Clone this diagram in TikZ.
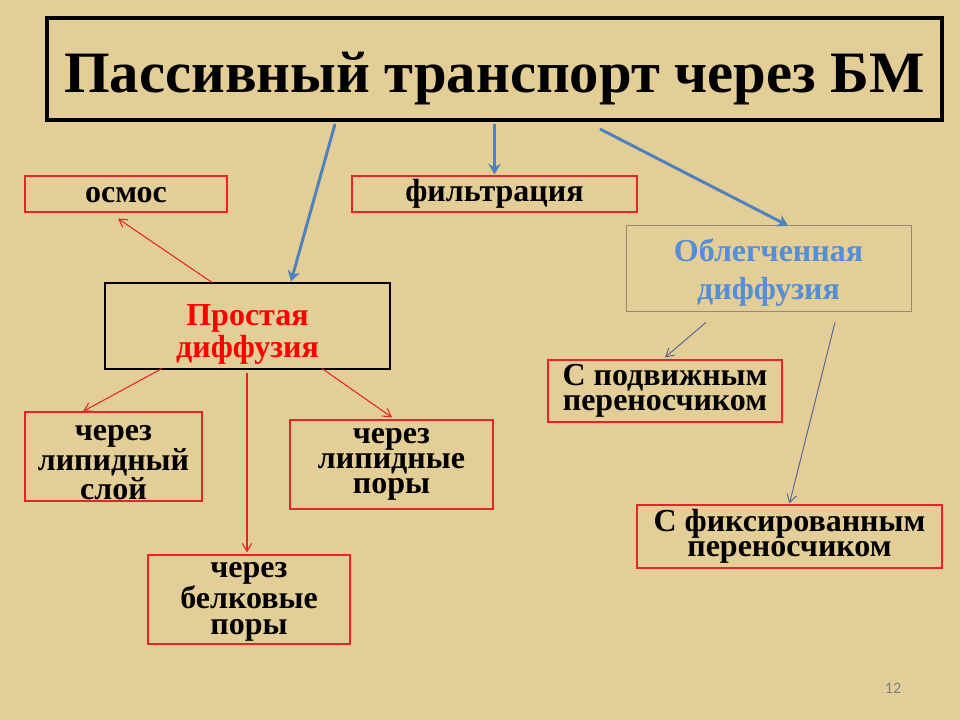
\documentclass[tikz,border=0pt]{standalone}
\usepackage{fontspec}
\setmainfont{Liberation Serif}
\newfontfamily\numfont{Carlito}
\usetikzlibrary{positioning,calc,arrows.meta}
\definecolor{parchment}{RGB}{228,206,152}
\definecolor{boxred}{RGB}{232,36,40}
\definecolor{arrowblue}{RGB}{79,129,189}
\definecolor{textblue}{RGB}{85,142,213}
\definecolor{thinblue}{RGB}{80,100,150}
\definecolor{boxgray}{RGB}{150,135,115}
\newcommand{\capfix}[1]{\rule{0pt}{#1}}

\begin{document}
\begin{tikzpicture}[x=0.75pt,y=-0.75pt,
    box/.style={draw,line width=0.9pt,inner sep=0pt,align=center,
        font=\fontsize{24}{19}\selectfont\bfseries},
    redbox/.style={box,draw=boxred},
    main/.style={-{Stealth[length=8pt,width=9.5pt]},arrowblue,line width=2.2pt},
    redline/.style={-{Straight Barb[length=6pt,width=7pt]},boxred,line width=0.8pt},
    blueline/.style={-{Straight Barb[length=6pt,width=7pt]},thinblue,line width=0.7pt}]
    \fill[parchment] (0,0) rectangle (960,720);
    \node[draw,line width=3pt,minimum width=895*0.75pt,minimum height=102*0.75pt,
        inner sep=0pt,text height=35pt,text depth=0pt,
        font=\fontsize{44}{52}\selectfont\bfseries] (title) at (494.5,69)
        {Пассивный транспорт через БМ};
    \node[redbox,minimum width=202*0.75pt,minimum height=36*0.75pt,
        text height=13pt,text depth=0pt] (osmos) at (126,194) {осмос};
    \node[redbox,minimum width=285*0.75pt,minimum height=36*0.75pt,
        text height=12pt,text depth=0pt] (filt) at (494.5,194) {фильтрация};
    \node[box,font=\fontsize{24}{28.5}\selectfont\bfseries,draw=boxgray,line width=0.6pt,
        text=textblue,minimum width=285*0.75pt,minimum height=86*0.75pt]
        (obl) at (768.5,268) {\capfix{24pt}Облегченная\\диффузия};
    \node[box,font=\fontsize{24}{24}\selectfont\bfseries,draw=black,line width=0.8pt,
        text=red,minimum width=285*0.75pt,minimum height=86*0.75pt]
        (prost) at (247.5,326) {\capfix{28pt}Простая\\диффузия};
    \node[redbox,minimum width=177*0.75pt,minimum height=89*0.75pt] (lipsl) at (113.5,456.5)
        {\capfix{20pt}через\\липидный\\слой};
    \node[redbox,minimum width=203*0.75pt,minimum height=89*0.75pt] (lippor) at (391.5,464.5)
        {через\\липидные\\поры};
    \node[redbox,minimum width=202*0.75pt,minimum height=89*0.75pt] (belk) at (249,599.5)
        {\capfix{15pt}через\\белковые\\поры};
    \node[redbox,minimum width=234*0.75pt,minimum height=62*0.75pt] (podv) at (665,391)
        {С подвижным\\переносчиком};
    \node[redbox,minimum width=305*0.75pt,minimum height=63*0.75pt] (fiks) at (789.5,536.5)
        {С фиксированным\\переносчиком};
    \node[text=gray,font=\numfont\fontsize{12}{14}\selectfont] (page) at (893,688) {12};
    % blue arrows from the title
    \path[main] ($(title.south)+(-159.5,2)$) edge ($(prost.north)+(43.5,-1)$);
    \path[main] ($(title.south)+(0,2)$) edge ($(filt.north)+(0,-1)$);
    \path[main] ($(title.south)+(105.5,7)$) edge ($(obl.north)+(19.5,1)$);
    % simple diffusion
    \path[redline] ($(prost.north)+(-35.5,0)$) edge ($(osmos.south)+(-8,6)$);
    \path[redline] ($(prost.south)+(-85.5,-1)$) edge ($(lipsl.north)+(-30.5,0)$);
    \path[redline] ($(prost.south)+(74.5,-1)$) edge ($(lippor.north)+(0.5,-2)$);
    \path[redline] ($(prost.south)+(-0.5,3)$) edge ($(prost.south |- belk.north)+(-0.5,-2)$);
    % facilitated diffusion
    \path[blueline] ($(obl.south)+(-62.5,11)$) edge ($(podv.north)+(0,-2)$);
    \path[blueline] ($(obl.south)+(66.5,11)$) edge ($(fiks.north)+(0,-1)$);
\end{tikzpicture}
\end{document}
